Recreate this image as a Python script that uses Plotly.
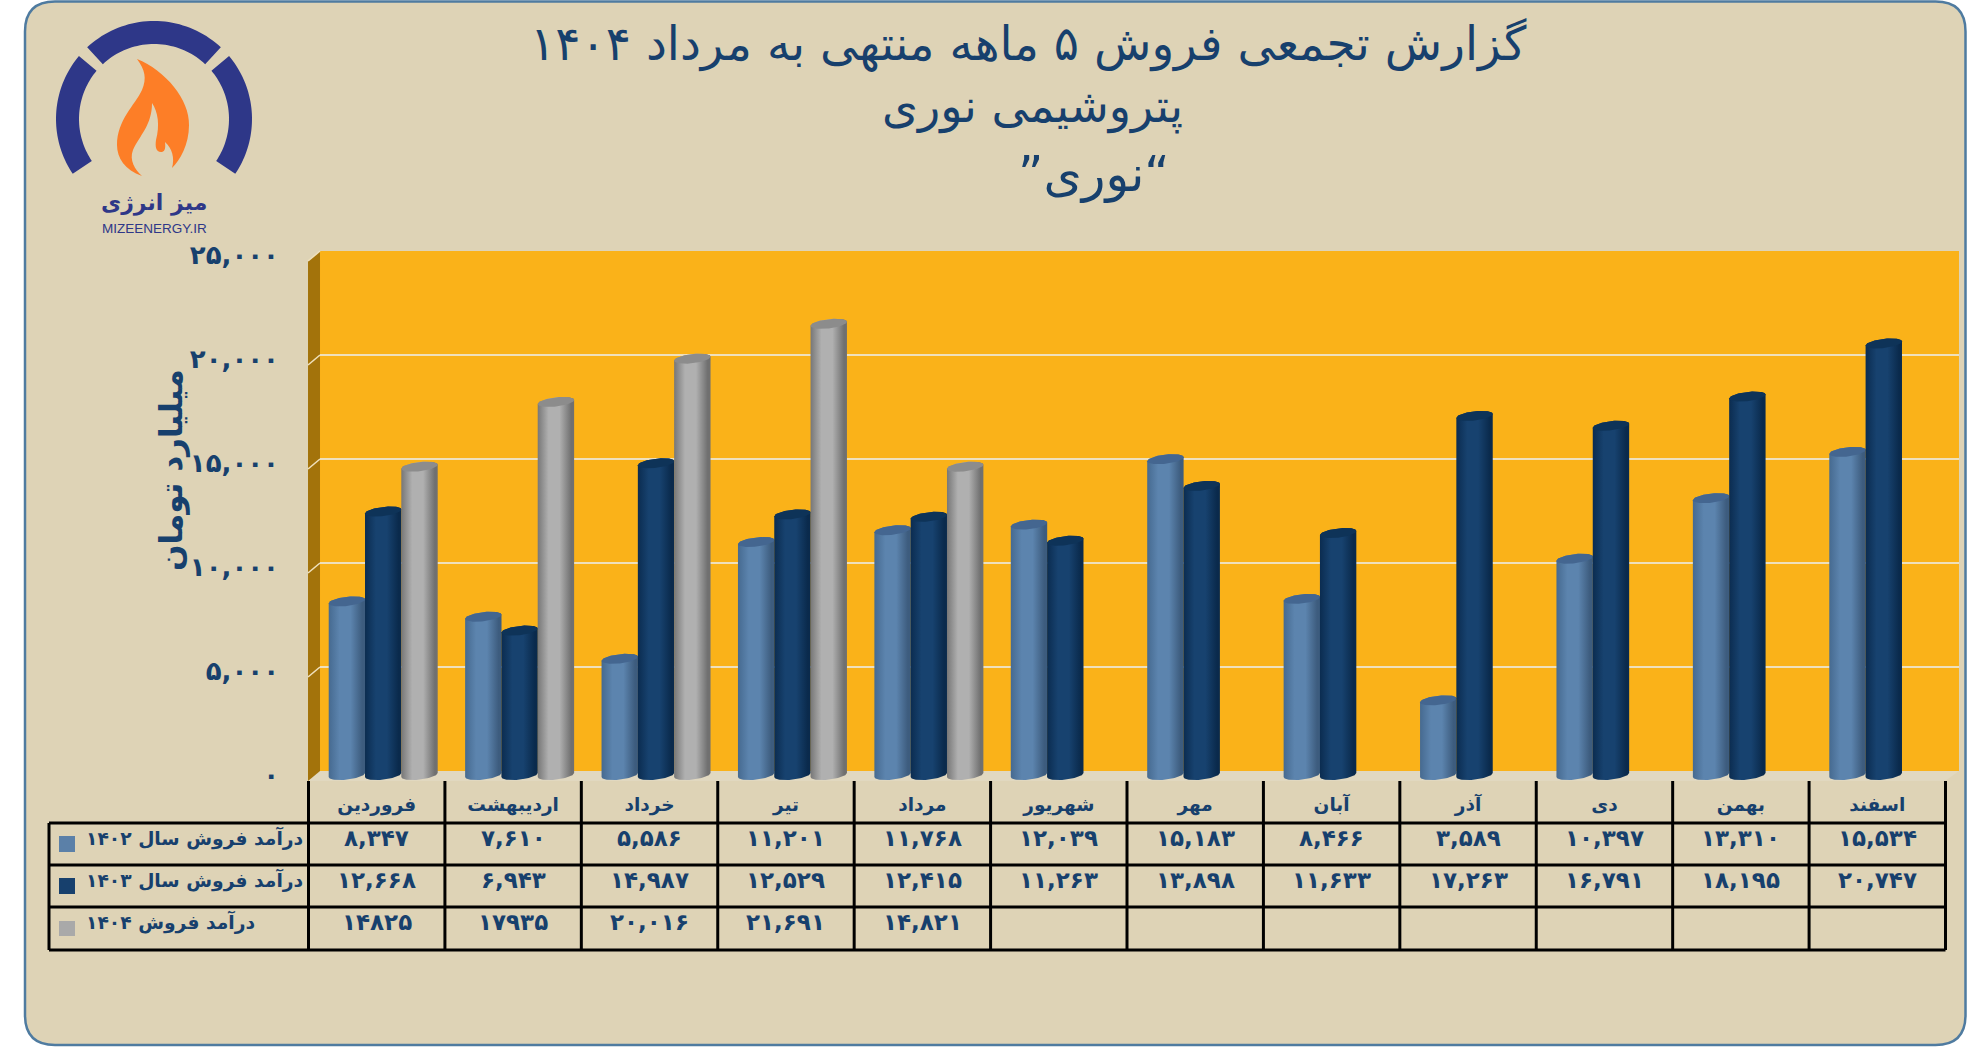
import math
import plotly.graph_objects as go

# ---------- data ----------
months = ["فروردین", "اردیبهشت", "خرداد", "تیر", "مرداد", "شهریور", "مهر", "آبان", "آذر", "دی", "بهمن", "اسفند"]
sales_1402 = [8347, 7610, 5586, 11201, 11768, 12039, 15183, 8466, 3589, 10397, 13310, 15534]
sales_1403 = [12668, 6943, 14987, 12529, 12415, 11263, 13898, 11633, 17263, 16791, 18195, 20747]
sales_1404 = [14825, 17935, 20016, 21691, 14821, None, None, None, None, None, None, None]
labels_1404 = ["۱۴۸۲۵", "۱۷۹۳۵", "۲۰,۰۱۶", "۲۱,۶۹۱", "۱۴,۸۲۱", "", "", "", "", "", "", ""]
row_names = ["درآمد فروش سال ۱۴۰۲", "درآمد فروش سال ۱۴۰۳", "درآمد فروش ۱۴۰۴"]
y_ticks = [0, 5000, 10000, 15000, 20000, 25000]
title_lines = ["گزارش تجمعی فروش ۵ ماهه منتهی به مرداد ۱۴۰۴", "پتروشیمی نوری", "\u202b“نوری”\u202c"]
y_title = "میلیارد تومان"

W, H = 1986, 1047
FONT = "DejaVu Sans"
INK = "#17406D"
BG = "#DED3B6"
GRID = "#EFE0BC"
PER = str.maketrans("0123456789", "۰۱۲۳۴۵۶۷۸۹")


def fa(v):
    return f"{v:,}".translate(PER)


def X(p):
    return p / W


def Y(p):
    return 1 - p / H


def path(cmds):
    out = []
    for c, pts in cmds:
        out.append(c + " ".join(f"{X(x):.5f},{Y(y):.5f}" for x, y in pts))
    return " ".join(out) + " Z"


def poly(pts):
    return path([("M", [pts[0]])] + [("L", [p]) for p in pts[1:]])


shapes = []


def add_path(p, fill, line=None, lw=0, layer="below"):
    shapes.append(dict(type="path", xref="paper", yref="paper", path=p, fillcolor=fill,
                       line=dict(color=line or "rgba(0,0,0,0)", width=lw), layer=layer))


def add_line(x0, y0, x1, y1, color="#000000", w=3, layer="below"):
    shapes.append(dict(type="line", xref="paper", yref="paper", x0=X(x0), y0=Y(y0), x1=X(x1), y1=Y(y1),
                       line=dict(color=color, width=w), layer=layer))


# ---------- panel ----------
L, T, R, B, r = 25, 1.5, 1965.5, 1045, 30
add_path(path([("M", [(L + r, T)]), ("L", [(R - r, T)]), ("Q", [(R, T), (R, T + r)]), ("L", [(R, B - r)]),
               ("Q", [(R, B), (R - r, B)]), ("L", [(L + r, B)]), ("Q", [(L, B), (L, B - r)]),
               ("L", [(L, T + r)]), ("Q", [(L, T), (L + r, T)])]), BG, "#4F7BA0", 2.5)

# ---------- 3-D walls ----------
WL, WR, WT, WB = 320, 1959, 251, 771
add_path(poly([(WL, WB), (WR, WB), (1945, 781), (308, 781)]), "#E1D8C0")
add_path(poly([(WL, WT), (WR, WT), (WR, WB), (WL, WB)]), "#FAB219")
add_path(poly([(308, WT + 10), (WL, WT), (WL, WB), (308, WB + 10)]), "#A3730B")
for t in y_ticks[1:]:
    yy = WB - (WB - WT) * t / 25000
    add_line(308, yy + 10, WL, yy, GRID, 1.6)


# ---------- logo ----------
def arc(a0, a1, cx=154, cy=119, ro=98, ri=75, n=40):
    pts = []
    for i in range(n + 1):
        a = math.radians(a0 + (a1 - a0) * i / n)
        pts.append((cx + ro * math.cos(a), cy - ro * math.sin(a)))
    for i in range(n, -1, -1):
        a = math.radians(a0 + (a1 - a0) * i / n)
        pts.append((cx + ri * math.cos(a), cy - ri * math.sin(a)))
    return poly(pts)


for a0, a1 in [(47, 133), (140, 214), (-34, 40)]:
    add_path(arc(a0, a1), "#2E3788")
add_path(path([("M", [(137, 59)]), ("C", [(165, 70), (190, 100), (189, 125)]), ("C", [(189, 145), (180, 160), (172, 168)]),
               ("C", [(175, 158), (172, 148), (165, 142)]), ("C", [(166, 150), (164, 152), (161, 152)]),
               ("C", [(156, 152), (155, 147), (156, 140)]), ("C", [(160, 125), (158, 112), (152, 103)]),
               ("C", [(152, 125), (140, 135), (133, 150)]), ("C", [(129, 160), (135, 170), (142, 176)]),
               ("C", [(125, 170), (117, 158), (117, 145)]), ("C", [(117, 120), (135, 105), (142, 90)]),
               ("C", [(147, 78), (145, 70), (137, 59)])]), "#FD7E27")

# ---------- table lines ----------
COL0, COLW = 308.5, (1945.5 - 308.5) / 12
ROWS = [823, 865, 907, 950]
TL = 49
for yy in ROWS:
    add_line(TL, yy, 1945.5, yy)
add_line(TL, 823, TL, 950)
for i in range(13):
    add_line(COL0 + i * COLW, 781, COL0 + i * COLW, 950)
KEYS = ["#5B80A8", "#17406D", "#A9A9A9"]
for (y0, y1), c in zip([(836, 852), (878, 894), (921, 936)], KEYS):
    add_path(poly([(59, y0), (75, y0), (75, y1), (59, y1)]), c)

# ---------- annotations ----------
ann = []


def text(px, py, s, size, bold=False, anchor="center", color=INK, angle=0, family=FONT):
    ann.append(dict(xref="paper", yref="paper", x=X(px), y=Y(py), text=f"<b>{s}</b>" if bold else s,
                    showarrow=False, xanchor=anchor, yanchor="middle", textangle=angle,
                    font=dict(family=family, size=size, color=color)))


text(1028, 44, title_lines[0], 47)
text(1032, 107, title_lines[1], 46)
text(1094, 174, title_lines[2], 49)
text(171, 470, y_title, 31, bold=True, angle=-90)
text(154, 203, "میز انرژی", 22, bold=True, color="#2E3788")
text(154, 228, "MIZEENERGY.IR", 13.5, color="#2E3788", family="Liberation Sans")

row_y = [838, 880, 922]
for name, yy in zip(row_names, row_y):
    text(84, yy, name, 18.7, bold=True, anchor="left")
rows = [[fa(v) for v in sales_1402], [fa(v) for v in sales_1403], labels_1404]
for row, yy in zip(rows, row_y):
    for i, s in enumerate(row):
        if s:
            text(COL0 + (i + 0.5) * COLW, yy, s, 23, bold=True)

# ---------- cylinders ----------
PXU = 520 / 25000  # pixels per value unit on the bar plane
BASE_DROP = 6 / PXU  # value-axis room below zero for the cylinders' rounded base
SLOT = [-29.8 / COLW, 6.5 / COLW, 42.8 / COLW]
HALF = 18.2 / COLW
CAPB = 4.6 / PXU
TILT = 2.0 / PXU
STYLES = [
    ("#466A90", "#5C84AE", "#3D5C7E", "#446690"),
    ("#0B2C50", "#17426F", "#0A2A4C", "#0E3358"),
    ("#777777", "#B0B0B0", "#707070", "#8C8C8C"),
]


def ell(cx, cy, t):
    return cx + HALF * math.cos(t), cy + CAPB * math.sin(t) + TILT * math.cos(t)


fig = go.Figure()
fig.add_trace(go.Scatter(x=[0], y=[0], xaxis="x", yaxis="y", mode="none", showlegend=False, hoverinfo="skip"))

N = 36
for s, series in enumerate([sales_1402, sales_1403, sales_1404]):
    c0, c1, c2, cap = STYLES[s]
    for i, v in enumerate(series):
        if v is None:
            continue
        cx = i + SLOT[s]
        body = [ell(cx, 0, math.pi + math.pi * k / N) for k in range(N + 1)]
        body += [ell(cx, v, math.pi * k / N) for k in range(N + 1)]
        fig.add_trace(go.Scatter(
            x=[p[0] for p in body], y=[p[1] for p in body], xaxis="x2", yaxis="y2", mode="lines",
            line=dict(width=0), fill="toself", cliponaxis=False, showlegend=False, hoverinfo="skip",
            fillgradient=dict(type="horizontal", colorscale=[[0, c0], [0.3, c1], [0.6, c1], [0.92, c2], [1, c2]])))
        top = [ell(cx, v, 2 * math.pi * k / (2 * N)) for k in range(2 * N + 1)]
        fig.add_trace(go.Scatter(
            x=[p[0] for p in top], y=[p[1] for p in top], xaxis="x2", yaxis="y2", mode="lines",
            line=dict(width=0), fill="toself", fillcolor=cap, cliponaxis=False, showlegend=False, hoverinfo="skip"))

fig.update_layout(
    template="none",
    width=W, height=H, margin=dict(l=0, r=0, t=0, b=0), showlegend=False,
    paper_bgcolor="white", plot_bgcolor="rgba(0,0,0,0)",
    shapes=shapes, annotations=ann,
    xaxis=dict(domain=[X(WL), X(WR)], range=[0, 1], visible=False, anchor="y"),
    yaxis=dict(domain=[Y(WB), Y(WT)], range=[0, 25000], anchor="x", showgrid=True, gridcolor=GRID, gridwidth=1.6,
               tickvals=y_ticks, showticklabels=False, ticks="", zeroline=False, showline=False),
    xaxis2=dict(domain=[X(COL0), X(1945.5)], range=[-0.5, 11.5], anchor="y2", showgrid=False, zeroline=False,
                showline=False, tickmode="array", tickvals=list(range(12)), ticktext=months, ticks="",
                ticklabelstandoff=10, tickfont=dict(family=FONT, size=18.5, color=INK, weight="bold")),
    yaxis2=dict(domain=[Y(781), Y(255)], range=[-BASE_DROP, 25000], anchor="free", position=X(279), showgrid=False,
                zeroline=False, tickmode="array", tickvals=y_ticks, ticktext=[fa(t) for t in y_ticks], ticks="",
                showline=False, tickfont=dict(family=FONT, size=26, color=INK, weight="bold")),
)

fig.write_html("out.html", config=dict(displayModeBar=False),
               post_script="document.body.style.margin='0';document.body.style.overflow='hidden';")
